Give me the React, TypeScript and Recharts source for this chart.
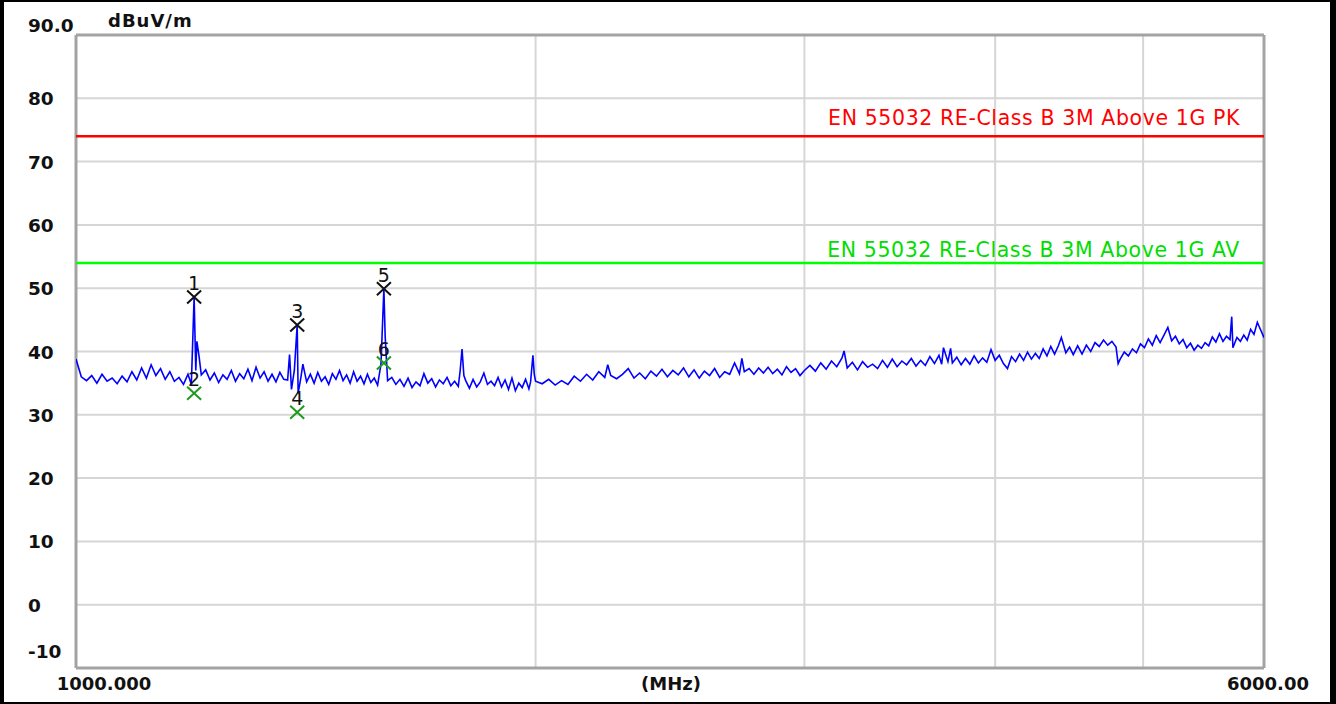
import { CartesianGrid, ComposedChart, Line, ReferenceLine, Scatter, XAxis, YAxis } from 'recharts'

// Swept trace, frequency in MHz and level in dBuV/m
const FREQ_MHZ = [
  1000, 1008, 1016, 1024, 1032, 1040, 1048, 1056, 1064, 1072,
  1080, 1088, 1096, 1104, 1112, 1120, 1128, 1136, 1144, 1152,
  1160, 1168, 1176, 1184, 1190, 1195, 1198, 1200, 1204, 1208,
  1216, 1224, 1232, 1240, 1248, 1256, 1264, 1272, 1280, 1288,
  1296, 1304, 1312, 1320, 1328, 1336, 1344, 1352, 1360, 1368,
  1376, 1380, 1384, 1390, 1396, 1398, 1404, 1408, 1416, 1424,
  1432, 1440, 1448, 1456, 1464, 1472, 1480, 1488, 1496, 1504,
  1512, 1520, 1528, 1536, 1544, 1552, 1560, 1568, 1576, 1584,
  1591, 1594, 1600,
  1610, 1620, 1630, 1640, 1650, 1660, 1670, 1680, 1690, 1700,
  1710, 1720, 1730, 1740, 1750, 1760, 1770, 1780, 1785, 1790,
  1795, 1800, 1810, 1820, 1830, 1840, 1850, 1860, 1870, 1880,
  1890, 1900, 1910, 1920, 1930, 1940, 1950, 1960, 1970, 1980,
  1985, 1992, 1996, 2000,
  2020, 2040, 2060, 2080, 2100, 2120, 2140, 2160, 2180, 2200,
  2220, 2230, 2240, 2260, 2280, 2300, 2320, 2340, 2360, 2380,
  2400, 2420, 2440, 2460, 2480, 2500, 2520, 2540, 2560, 2580,
  2600, 2620, 2640, 2660, 2680, 2700, 2720, 2730, 2740, 2760,
  2780, 2800, 2820, 2840, 2860, 2880, 2900, 2920, 2940, 2960,
  2980, 3000,
  3025, 3050, 3075, 3100, 3125, 3150, 3175, 3185, 3200, 3225,
  3250, 3275, 3300, 3325, 3350, 3375, 3400, 3425, 3450, 3475,
  3500, 3525, 3550, 3575, 3600, 3625, 3650, 3675, 3690, 3700,
  3725, 3740, 3750, 3775, 3800, 3825, 3850, 3875, 3900, 3925,
  3950, 3975, 4000, 4025, 4050, 4075, 4100, 4125, 4150, 4175,
  4200, 4225, 4250, 4275, 4300, 4325, 4350, 4375, 4400, 4420,
  4450, 4475, 4500,
  4530, 4560, 4590, 4620, 4650, 4680, 4710, 4740, 4770, 4800,
  4815, 4830, 4860, 4890, 4920, 4950, 4980, 5010, 5040, 5070,
  5100, 5130, 5160, 5190, 5220, 5250, 5280, 5310, 5340, 5370,
  5400, 5430, 5460, 5490, 5520, 5550, 5580, 5610, 5640, 5670,
  5700, 5715, 5725, 5760, 5790, 5820, 5850, 5880, 5910, 5940,
  5970, 6000,
]

const LEVEL_DBUV = [
  38.8, 36.0, 35.4, 36.2, 35.0, 36.4, 35.3, 35.8, 34.9, 36.1,
  35.2, 36.8, 35.5, 37.4, 35.8, 37.9, 36.2, 37.3, 35.6, 36.8,
  35.3, 35.9, 34.8, 36.4, 34.8, 48.6, 37.0, 41.6, 39.2, 36.3,
  37.1, 35.5, 36.6, 35.1, 36.3, 35.6, 37.0, 35.3, 36.5, 35.7,
  37.2, 35.4, 37.5, 35.8, 36.8, 35.3, 36.4, 35.2, 36.7, 35.6,
  35.5, 39.5, 34.0, 37.0, 44.2, 33.4, 36.0, 38.0, 35.2, 36.4,
  35.0, 36.7, 35.3, 36.0, 34.8, 36.5, 35.6, 37.0, 35.4, 36.3,
  35.0, 36.8, 35.3, 36.1, 34.9, 36.4, 35.1, 35.8, 34.7, 38.0,
  49.9, 42.5, 35.4,
  35.9, 34.8, 35.6, 34.5, 35.8, 34.3, 35.2, 34.6, 36.5, 35.0,
  35.7, 34.4, 35.5, 34.9, 35.9, 34.6, 35.3, 34.5, 37.0, 40.4,
  36.2, 35.4, 34.2, 35.6, 34.4, 35.2, 36.6, 34.8, 35.3, 34.6,
  35.9, 34.4, 35.5, 34.0, 35.8, 33.8, 35.0, 34.3, 35.6, 34.1,
  35.2, 39.4, 36.4, 35.3,
  34.9, 35.6, 34.7, 35.4, 34.8, 36.1, 35.3, 36.4, 35.5, 36.8,
  35.9, 37.9, 36.2, 35.7, 36.4, 37.3, 35.8, 36.6, 35.7, 36.9,
  36.1, 37.2, 36.0, 37.0, 36.3, 37.4, 36.0, 37.1, 35.8, 36.9,
  36.2, 37.3, 35.9, 36.8, 36.4, 38.2, 36.5, 38.9, 36.8, 37.3,
  36.4, 37.4, 36.6, 37.5, 36.5, 37.2, 36.3, 37.6, 36.7, 37.3,
  36.2, 37.0,
  37.8, 36.9, 38.2, 37.2, 38.5, 37.6, 39.0, 40.1, 37.4, 38.3,
  37.1, 38.4, 37.5, 38.0, 37.3, 38.6, 37.5, 38.8, 37.6, 38.5,
  37.9, 38.9, 37.7, 38.6, 37.8, 39.2, 38.1, 39.4, 38.0, 40.6,
  38.4, 40.5, 38.2, 39.1, 37.9, 38.9, 38.0, 39.3, 38.2, 39.0,
  38.3, 40.3, 38.6, 39.4, 38.1, 37.3, 39.2, 38.4, 39.6, 38.6,
  39.9, 38.8, 39.7, 38.9, 40.4, 39.3, 40.8, 39.6, 40.9, 42.2,
  39.8, 40.7, 39.5,
  40.9, 39.6, 41.0, 40.0, 41.4, 40.8, 41.8, 41.0, 41.6, 40.7,
  38.1, 38.8, 39.9, 39.3, 40.4, 39.8, 41.2, 40.6, 42.0, 41.0,
  42.5, 41.4, 42.6, 43.8, 41.7, 42.4, 41.2, 41.9, 40.6, 41.3,
  40.2, 41.0, 40.5, 41.4, 40.9, 42.3, 41.5, 42.8, 41.6, 42.4,
  41.9, 45.5, 40.6, 42.2, 41.6, 42.6, 41.8, 43.5, 42.7, 44.6,
  43.4, 42.2,
]

// Marker table: number, frequency, level, detector
const MARKER_NO = [1, 2, 3, 4, 5, 6]
const MARKER_FREQ = [1195, 1195, 1396, 1396, 1591, 1591]
const MARKER_LEVEL = [48.6, 33.4, 44.2, 30.4, 49.9, 38.2]
const MARKER_DET = ['PK', 'AV', 'PK', 'AV', 'PK', 'AV']

const LIMIT_PK = 74
const LIMIT_AV = 54
const LIMIT_PK_NAME = 'EN 55032 RE-Class B 3M Above 1G PK'
const LIMIT_AV_NAME = 'EN 55032 RE-Class B 3M Above 1G AV'

const Y_TICKS = [-10, 0, 10, 20, 30, 40, 50, 60, 70, 80, 90]
const X_TICKS = [1000, 2000, 3000, 4000, 5000, 6000]
const X_START_LABEL = '1000.000'
const X_END_LABEL = '6000.00'
const X_UNIT = '(MHz)'
const Y_UNIT = 'dBuV/m'

const FONT = '"DejaVu Sans", Verdana, sans-serif'
const BORDER = '#a3a3a3'
const GRID = '#d6d6d6'
const LABEL_LEFT = 28
const X_LABEL_BASE = 690

const trace = FREQ_MHZ.map((f, i) => ({ f, level: LEVEL_DBUV[i] }))
const markers = MARKER_NO.map((no, i) => ({
  no,
  f: MARKER_FREQ[i],
  level: MARKER_LEVEL[i],
  det: MARKER_DET[i],
}))

function YTick({ y, payload }: any) {
  const v = payload.value
  let text = String(v)
  let base = y + 7
  if (v === 90) {
    text = '90.0'
    base = y - 3
  } else if (v === -10) {
    base = y - 10
  }
  return (
    <text x={LABEL_LEFT} y={base} fill="#111" fontFamily={FONT} fontWeight={700} fontSize={18.5}>
      {text}
    </text>
  )
}

function XTick({ x, payload }: any) {
  const v = payload.value
  const common = {
    y: X_LABEL_BASE,
    fill: '#111',
    fontFamily: FONT,
    fontWeight: 700,
    fontSize: 18,
    textAnchor: 'middle' as const,
  }
  if (v === 1000) return <text x={x + 28} {...common}>{X_START_LABEL}</text>
  if (v === 6000) return <text x={x + 4} {...common}>{X_END_LABEL}</text>
  return <g />
}

function limitLabel(text: string, color: string, lift: number) {
  return (props: any) => {
    const { viewBox } = props
    return (
      <text
        x={viewBox.x + viewBox.width - 24}
        y={viewBox.y - lift}
        textAnchor="end"
        fill={color}
        fontFamily={FONT}
        fontSize={20.5}
        letterSpacing={0.6}
      >
        {text}
      </text>
    )
  }
}

function MarkerShape({ cx, cy, payload }: any) {
  const color = payload.det === 'PK' ? '#111' : '#1e9a1e'
  const rx = 7
  const ry = 6.5
  return (
    <g>
      <path
        d={`M${cx - rx},${cy - ry}L${cx + rx},${cy + ry}M${cx - rx},${cy + ry}L${cx + rx},${cy - ry}`}
        stroke={color}
        strokeWidth={2}
        fill="none"
      />
      <text x={cx} y={cy - 7} textAnchor="middle" fill="#111" fontFamily={FONT} fontSize={19}>
        {payload.no}
      </text>
    </g>
  )
}

export default function App() {
  return (
    <div style={{ position: 'absolute', left: 0, top: 0, width: 1336, height: 704, background: '#fff' }}>
      <ComposedChart
        width={1336}
        height={704}
        data={trace}
        margin={{ top: 35, right: 72, bottom: 0, left: 0 }}
      >
        <CartesianGrid stroke={GRID} strokeWidth={2} horizontal={false} verticalValues={X_TICKS} />
        <XAxis
          dataKey="f"
          type="number"
          scale="log"
          domain={[1000, 6000]}
          ticks={X_TICKS}
          allowDataOverflow
          height={36}
          axisLine={false}
          tickLine={false}
          tick={<XTick />}
          interval={0}
          label={(props: any) => {
            const vb = props.viewBox
            return (
              <text
                x={vb.x + vb.width / 2 + 1}
                y={X_LABEL_BASE}
                textAnchor="middle"
                fill="#111"
                fontFamily={FONT}
                fontWeight={700}
                fontSize={18}
              >
                {X_UNIT}
              </text>
            )
          }}
        />
        <YAxis
          type="number"
          domain={[-10, 90]}
          ticks={Y_TICKS}
          width={76}
          axisLine={false}
          tickLine={false}
          tick={<YTick />}
          interval={0}
          label={(props: any) => {
            const vb = props.viewBox
            return (
              <text
                x={vb.x + vb.width + 32}
                y={vb.y - 8}
                fill="#111"
                fontFamily={FONT}
                fontWeight={700}
                fontSize={18}
                letterSpacing={1}
              >
                {Y_UNIT}
              </text>
            )
          }}
        />
        {/* horizontal grid, one line per 10 dB */}
        {Y_TICKS.map((v) => (
          <ReferenceLine key={`g${v}`} y={v} stroke={GRID} strokeWidth={2} />
        ))}
        <ReferenceLine x={1000} stroke={BORDER} strokeWidth={3} />
        <ReferenceLine x={6000} stroke={BORDER} strokeWidth={3} />
        <ReferenceLine y={90} stroke={BORDER} strokeWidth={3} />
        <ReferenceLine y={-10} stroke={BORDER} strokeWidth={3} />
        <Line
          dataKey="level"
          type="linear"
          stroke="#0000ff"
          strokeWidth={1.6}
          dot={false}
          isAnimationActive={false}
        />
        <ReferenceLine y={LIMIT_PK} stroke="#ff0000" strokeWidth={2.5} label={limitLabel(LIMIT_PK_NAME, '#ff0000', 11)} />
        <ReferenceLine y={LIMIT_AV} stroke="#00ff00" strokeWidth={2.5} label={limitLabel(LIMIT_AV_NAME, '#00dd00', 6)} />
        <Scatter data={markers} dataKey="level" shape={<MarkerShape />} isAnimationActive={false} />
      </ComposedChart>
      <div
        style={{
          position: 'absolute',
          inset: 0,
          boxSizing: 'border-box',
          borderStyle: 'solid',
          borderColor: '#000',
          borderWidth: '2px 6px 2px 4px',
          pointerEvents: 'none',
        }}
      />
    </div>
  )
}
